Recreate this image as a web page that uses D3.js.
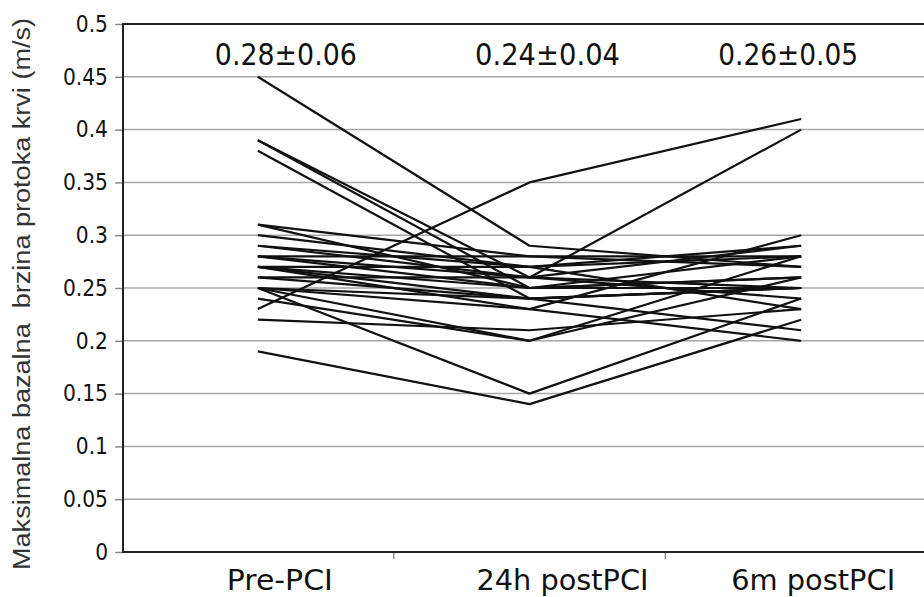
<!DOCTYPE html>
<html>
<head>
<meta charset="utf-8">
<script src="https://cdn.jsdelivr.net/npm/d3@7"></script>
<style>
  body { margin: 0; background: #fff; }
  svg { display: block; }
</style>
</head>
<body>
<div id="chart"></div>
<script>
var width = 924;
var height = 597;

// categories and summary labels (mean ± SD)
var categories = ["Pre-PCI", "24h postPCI", "6m postPCI"];
var summaries = ["0.28\u00b10.06", "0.24\u00b10.04", "0.26\u00b10.05"];
var yTicks = [0, 0.05, 0.1, 0.15, 0.2, 0.25, 0.3, 0.35, 0.4, 0.45, 0.5];

// one value per patient for each time point (same index = same patient)
var prePCI  = [0.45, 0.23, 0.39, 0.39, 0.38, 0.31, 0.31, 0.30, 0.29, 0.29, 0.28, 0.28, 0.28,
               0.27, 0.27, 0.27, 0.27, 0.26, 0.26, 0.25, 0.24, 0.25, 0.25, 0.25, 0.22, 0.19];
var post24h = [0.29, 0.35, 0.26, 0.25, 0.24, 0.28, 0.25, 0.27, 0.26, 0.27, 0.28, 0.25, 0.26,
               0.27, 0.24, 0.23, 0.25, 0.26, 0.24, 0.15, 0.20, 0.20, 0.23, 0.24, 0.21, 0.14];
var post6m  = [0.27, 0.41, 0.40, 0.25, 0.25, 0.28, 0.26, 0.29, 0.25, 0.23, 0.27, 0.26, 0.29,
               0.28, 0.25, 0.30, 0.28, 0.24, 0.25, 0.24, 0.28, 0.26, 0.20, 0.21, 0.23, 0.22];

var svg = d3.select("#chart").append("svg")
    .attr("width", width)
    .attr("height", height);

var x = d3.scaleBand()
    .domain(categories)
    .range([122, 937]); // right part of the plot is cut off by the window

var y = d3.scaleLinear()
    .domain([0, 0.5])
    .range([552, 24]);

// horizontal gridlines
svg.append("g")
    .selectAll("line")
    .data(yTicks.slice(1))
    .enter()
    .append("line")
    .attr("x1", 123).attr("x2", width)
    .attr("y1", d => y(d)).attr("y2", d => y(d))
    .attr("stroke", "#a6a6a6")
    .attr("stroke-width", 1.5);

// y axis
var yAxis = svg.append("g")
    .attr("transform", "translate(123,0)")
    .call(d3.axisLeft(y).tickValues(yTicks).tickSize(8).tickSizeOuter(0)
        .tickFormat(d => d3.format("")(+d.toFixed(2))));
yAxis.select(".domain").remove();
yAxis.selectAll(".tick line").attr("stroke", "#8c8c8c").attr("stroke-width", 1.5);
yAxis.selectAll(".tick text")
    .attr("x", -15 / 0.88)
    .attr("transform", "scale(0.88,1)")
    .attr("font-family", "DejaVu Sans, Verdana, sans-serif")
    .attr("font-size", 23)
    .attr("fill", "#111");

// x axis tick marks between categories
svg.append("g")
    .selectAll("line")
    .data(categories.slice(1))
    .enter()
    .append("line")
    .attr("x1", d => x(d)).attr("x2", d => x(d))
    .attr("y1", 552).attr("y2", 559)
    .attr("stroke", "#8c8c8c")
    .attr("stroke-width", 1.5);

// frame: left, top, bottom
svg.append("line").attr("x1", 123).attr("x2", 123).attr("y1", 23).attr("y2", 553)
    .attr("stroke", "#222").attr("stroke-width", 2);
svg.append("line").attr("x1", 122).attr("x2", width).attr("y1", y(0.5)).attr("y2", y(0.5))
    .attr("stroke", "#222").attr("stroke-width", 2);
svg.append("line").attr("x1", 122).attr("x2", width).attr("y1", y(0)).attr("y2", y(0))
    .attr("stroke", "#222").attr("stroke-width", 2);

// patient lines
var patients = prePCI.map((v, i) => [v, post24h[i], post6m[i]]);
var line = d3.line()
    .x((d, i) => x(categories[i]) + x.bandwidth() / 2)
    .y(d => y(d));

svg.append("g")
    .selectAll("path")
    .data(patients)
    .enter()
    .append("path")
    .attr("d", line)
    .attr("fill", "none")
    .attr("stroke", "#111")
    .attr("stroke-width", 2.2)
    .attr("stroke-linejoin", "round");

// summary labels above each time point
var summaryShift = [28, 18, -13];
var summaryWidth = [142, 145, 140];
svg.append("g")
    .selectAll("text")
    .data(summaries)
    .enter()
    .append("text")
    .attr("x", (d, i) => x(categories[i]) + x.bandwidth() / 2 + summaryShift[i])
    .attr("y", 65)
    .attr("text-anchor", "middle")
    .attr("font-family", "DejaVu Sans, Verdana, sans-serif")
    .attr("font-size", 30)
    .attr("textLength", (d, i) => summaryWidth[i])
    .attr("lengthAdjust", "spacingAndGlyphs")
    .attr("fill", "#111")
    .text(d => d);

// category labels
var labelShift = [22, 33, 12];
var labelWidth = [106, 172, 164];
svg.append("g")
    .selectAll("text")
    .data(categories)
    .enter()
    .append("text")
    .attr("x", (d, i) => x(d) + x.bandwidth() / 2 + labelShift[i])
    .attr("y", 590)
    .attr("text-anchor", "middle")
    .attr("font-family", "DejaVu Sans, Verdana, sans-serif")
    .attr("font-size", 28)
    .attr("textLength", (d, i) => labelWidth[i])
    .attr("lengthAdjust", "spacingAndGlyphs")
    .attr("fill", "#111")
    .text(d => d);

// y axis title
svg.append("text")
    .attr("transform", "translate(30,294) rotate(-90)")
    .attr("text-anchor", "middle")
    .attr("font-family", "Liberation Sans, Arial, sans-serif")
    .attr("font-size", 23)
    .attr("textLength", 552)
    .attr("lengthAdjust", "spacingAndGlyphs")
    .attr("fill", "#333")
    .attr("xml:space", "preserve")
    .text("Maksimalna bazalna  brzina protoka krvi (m/s)");
</script>
</body>
</html>
